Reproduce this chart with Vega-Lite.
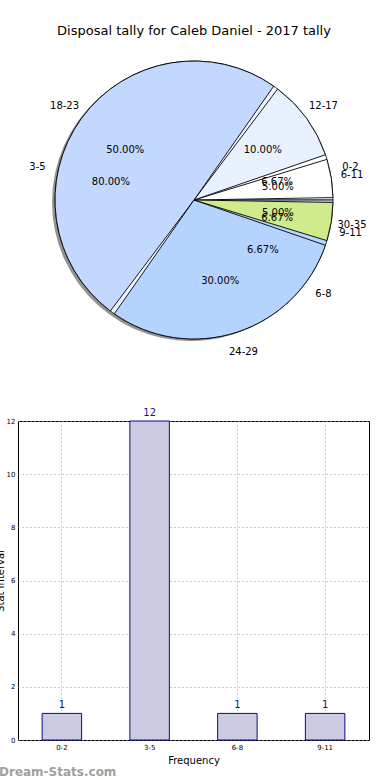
{
  "$schema": "https://vega.github.io/schema/vega-lite/v6.json",
  "padding": {"left": -6, "top": 25, "right": 0, "bottom": 0},
  "background": "white",
  "config": {"font": "DejaVu Sans", "view": {"stroke": null}},
  "datasets": {
    "pie1": [
      {"idx": 1, "cat": "6-11", "pct": 5, "label": "5.00%"},
      {"idx": 2, "cat": "12-17", "pct": 10, "label": "10.00%"},
      {"idx": 3, "cat": "18-23", "pct": 50, "label": "50.00%"},
      {"idx": 4, "cat": "24-29", "pct": 30, "label": "30.00%"},
      {"idx": 5, "cat": "30-35", "pct": 5, "label": "5.00%"}
    ],
    "pie2": [
      {"idx": 1, "cat": "0-2", "pct": 6.67, "label": "6.67%"},
      {"idx": 2, "cat": "3-5", "pct": 80, "label": "80.00%"},
      {"idx": 3, "cat": "6-8", "pct": 6.66, "label": "6.67%"},
      {"idx": 4, "cat": "9-11", "pct": 6.67, "label": "6.67%"}
    ],
    "bars": [
      {"cat": "0-2", "count": 1},
      {"cat": "3-5", "count": 12},
      {"cat": "6-8", "count": 1},
      {"cat": "9-11", "count": 1}
    ]
  },
  "bounds": "flush",
  "spacing": 71,
  "vconcat": [
    {
      "width": 352,
      "height": 300,
      "title": {"text": "Disposal tally for Caleb Daniel - 2017 tally", "fontSize": 13, "fontWeight": "normal", "anchor": "middle", "frame": "group", "offset": 12, "color": "black"},
      "layer": [
        {
          "data": {"name": "pie2"},
          "mark": {"type": "arc", "outerRadius": 139, "xOffset": -3, "yOffset": 2, "color": "#6f6f6f", "opacity": 0.75},
          "encoding": {
            "theta": {"field": "pct", "type": "quantitative", "stack": true, "scale": {"domain": [0, 100], "range": [1.5708, -4.7124]}},
            "order": {"field": "idx", "type": "quantitative"}
          }
        },
        {
          "data": {"name": "pie2"},
          "mark": {"type": "arc", "outerRadius": 139, "stroke": "black", "strokeWidth": 0.8},
          "encoding": {
            "theta": {"field": "pct", "type": "quantitative", "stack": true, "scale": {"domain": [0, 100], "range": [1.5708, -4.7124]}},
            "order": {"field": "idx", "type": "quantitative"},
            "color": {"field": "cat", "type": "nominal", "legend": null, "scale": {"domain": ["0-2", "3-5", "6-8", "9-11"], "range": ["#ffffff", "#eef3fd", "#c3d8fe", "#b9d5fb"]}}
          }
        },
        {
          "data": {"name": "pie1"},
          "mark": {"type": "arc", "outerRadius": 139, "padAngle": 0.035, "stroke": "black", "strokeWidth": 0.9},
          "encoding": {
            "theta": {"field": "pct", "type": "quantitative", "stack": true, "scale": {"domain": [0, 100], "range": [1.5708, -4.7124]}},
            "order": {"field": "idx", "type": "quantitative"},
            "color": {"field": "cat", "type": "nominal", "legend": null, "scale": {"domain": ["6-11", "12-17", "18-23", "24-29", "30-35"], "range": ["#ffffff", "#eaf1fe", "#c3d8fe", "#b4d4ff", "#d0eb8c"]}}
          }
        },
        {
          "data": {"name": "pie1"},
          "mark": {"type": "text", "radius": 85, "fontSize": 10, "color": "black"},
          "encoding": {
            "theta": {"field": "pct", "type": "quantitative", "stack": true, "scale": {"domain": [0, 100], "range": [1.5708, -4.7124]}},
            "order": {"field": "idx", "type": "quantitative"},
            "text": {"field": "label"}
          }
        },
        {
          "data": {"name": "pie2"},
          "mark": {"type": "text", "radius": 85, "fontSize": 10, "color": "black"},
          "encoding": {
            "theta": {"field": "pct", "type": "quantitative", "stack": true, "scale": {"domain": [0, 100], "range": [1.5708, -4.7124]}},
            "order": {"field": "idx", "type": "quantitative"},
            "text": {"field": "label"}
          }
        },
        {
          "data": {"name": "pie1"},
          "mark": {"type": "text", "radius": 160, "fontSize": 10, "color": "black"},
          "encoding": {
            "theta": {"field": "pct", "type": "quantitative", "stack": true, "scale": {"domain": [0, 100], "range": [1.5708, -4.7124]}},
            "order": {"field": "idx", "type": "quantitative"},
            "text": {"field": "cat"}
          }
        },
        {
          "data": {"name": "pie2"},
          "mark": {"type": "text", "radius": 160, "fontSize": 10, "color": "black"},
          "encoding": {
            "theta": {"field": "pct", "type": "quantitative", "stack": true, "scale": {"domain": [0, 100], "range": [1.5708, -4.7124]}},
            "order": {"field": "idx", "type": "quantitative"},
            "text": {"field": "cat"}
          }
        }
      ],
      "resolve": {"scale": {"color": "independent"}}
    },
    {
      "width": 351,
      "height": 319,
      "data": {"name": "bars"},
      "view": {"stroke": "black", "strokeWidth": 1},
      "title": {"text": "Dream-Stats.com", "orient": "bottom", "anchor": "start", "frame": "group", "dx": -19, "offset": 2, "fontSize": 12, "fontWeight": "bold", "color": "#a0a0a0"},
      "encoding": {
        "x": {
          "field": "cat", "type": "nominal", "sort": null,
          "scale": {"paddingInner": 0, "paddingOuter": 0},
          "axis": {"title": "Frequency", "titleFontSize": 10, "titleFontWeight": "normal", "titlePadding": 5, "labelAngle": 0, "labelFontSize": 7, "labelColor": "black", "labelPadding": 3, "tickSize": 0, "domain": false, "grid": true, "gridDash": [1, 3], "gridColor": "#999999", "gridOpacity": 1}
        },
        "y": {
          "field": "count", "type": "quantitative",
          "scale": {"domain": [0, 12], "nice": false},
          "axis": {"title": "Stat Interval", "titleFontSize": 10, "titleFontWeight": "normal", "titleX": -13, "titlePadding": 2, "values": [0, 2, 4, 6, 8, 10, 12], "labelFontSize": 7, "labelColor": "black", "labelPadding": 3, "tickSize": 0, "domain": false, "grid": true, "gridDash": [1, 3], "gridColor": "#999999", "gridOpacity": 1}
        }
      },
      "layer": [
        {
          "mark": {"type": "bar", "width": {"band": 0.45}, "fill": "#cbcce3", "stroke": "#0b0b8a", "strokeWidth": 1}
        },
        {
          "mark": {"type": "text", "dy": -8, "fontSize": 10, "color": "#14149c"},
          "encoding": {
            "text": {"field": "count", "type": "quantitative"}
          }
        }
      ]
    }
  ]
}
